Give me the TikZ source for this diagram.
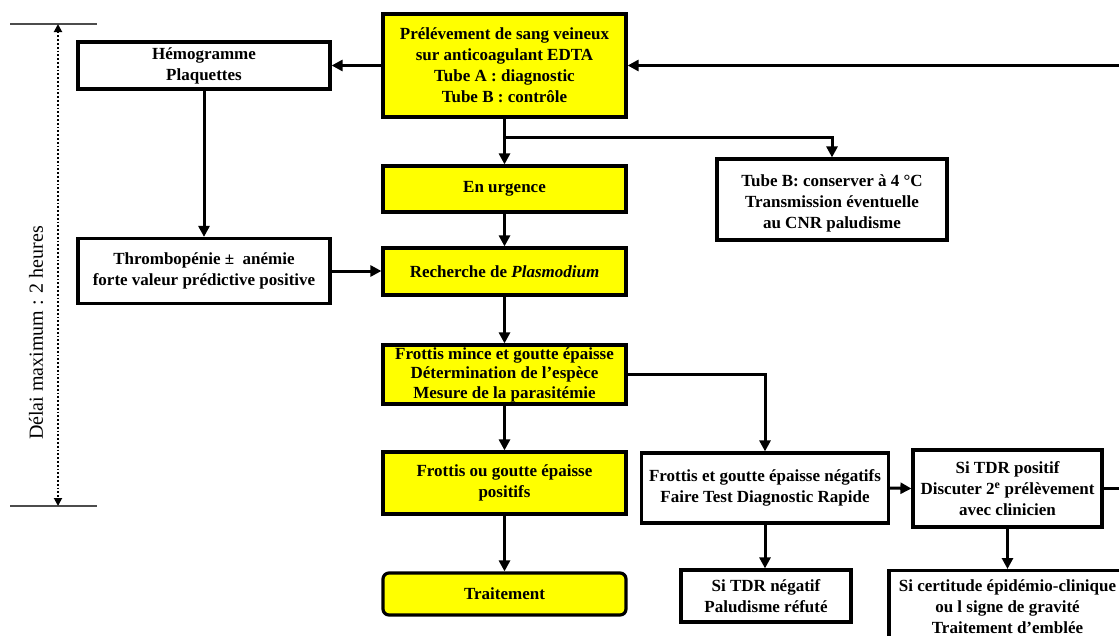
\documentclass[tikz,border=0pt]{standalone}
\usepackage{fontspec}
\setmainfont{Liberation Serif}
\usetikzlibrary{arrows.meta}
\definecolor{boxyellow}{RGB}{255,255,0}
\tikzset{
  box/.style={draw=black, line width=3.2pt, fill=white, align=center, inner sep=1pt,
    font=\fontsize{17}{21}\selectfont\bfseries},
  ybox/.style={box, fill=boxyellow},
  txt/.style={align=center, inner sep=1pt, font=\fontsize{17}{21}\selectfont\bfseries},
  arr/.style={line width=3pt, -{Triangle[length=11pt,width=11pt]}},
  plain/.style={line width=3pt},
  tick/.style={draw=black!70, line width=1.5pt},
  delai/.style={line width=1.8pt, dotted, {Triangle[length=8pt,width=8pt]}-{Triangle[length=8pt,width=8pt]}}
}
\begin{document}
\begin{tikzpicture}[x=1pt,y=-1pt]
\useasboundingbox (0,0) rectangle (1119,635);
\clip (0,0) rectangle (1119,635);
% timeline
\coordinate (t1a) at (10,24); \coordinate (t1b) at (97,24);
\coordinate (t2a) at (10,506); \coordinate (t2b) at (97,506);
\coordinate (da) at (58,24); \coordinate (db) at (58,506);
\draw[tick] (t1a) -- (t1b);
\draw[tick] (t2a) -- (t2b);
\draw[delai] (da) -- (db);
\node[rotate=90, font=\fontsize{20}{24}\selectfont] (delaitxt) at (36,333) {Délai maximum : 2 heures};
% boxes
\node[ybox, minimum width=243pt, minimum height=103pt] (prel) at (504.5,65.5)
  {Prélévement de sang veineux\\ sur anticoagulant EDTA\\ Tube A : diagnostic\\ Tube B : contrôle};
\node[box, minimum width=252pt, minimum height=47pt] (hemo) at (204,65.5) {Hémogramme\\ Plaquettes};
\node[ybox, minimum width=243pt, minimum height=46pt] (urg) at (504.5,189) {En urgence};
\node[box, minimum width=230pt, minimum height=81pt] (tubeb) at (832,199.5) {};
\node[txt] (tubebtxt) at ([yshift=-4pt]tubeb.center)
  {Tube B: conserver à 4 °C\\ Transmission éventuelle\\ au CNR paludisme};
\node[box, minimum width=252pt, minimum height=65pt] (thromb) at (204,271)
  {Thrombopénie ±\ \ anémie\\ forte valeur prédictive positive};
\node[ybox, minimum width=243pt, minimum height=47pt] (rech) at (504.5,271.5)
  {Recherche de \textit{Plasmodium}};
\node[ybox, minimum width=243pt, minimum height=59pt, font=\fontsize{17}{19.5}\selectfont\bfseries] (fmince) at (504.5,374.5)
  {Frottis mince et goutte épaisse\\ Détermination de l’espèce\\ Mesure de la parasitémie};
\node[ybox, minimum width=243pt, minimum height=62pt] (fpos) at (504.5,483)
  {Frottis ou goutte épaisse\\ positifs};
\node[ybox, rounded corners=6pt, minimum width=243pt, minimum height=42pt] (trait) at (504.5,594) {Traitement};
\node[box, minimum width=247pt, minimum height=70pt] (fneg) at (765,488)
  {Frottis et goutte épaisse négatifs\\ Faire Test Diagnostic Rapide};
\node[box, minimum width=189pt, minimum height=77pt] (tdrpos) at (1007.5,488.5)
  {Si TDR positif\\ Discuter 2\textsuperscript{e} prélèvement\\ avec clinicien};
\node[box, minimum width=170pt, minimum height=52pt] (tdrneg) at (766,596)
  {Si TDR négatif\\ Paludisme réfuté};
\node[box, minimum width=237pt, minimum height=90pt, anchor=north] (certit) at (1007.5,569)
  {Si certitude épidémio-clinique\\ ou l signe de gravité\\ Traitement d'emblée\\[-2pt]\mbox{}};
% connectors
\coordinate (rin) at (1125,65.5);
\coordinate (br) at (prel.south |- 0,137);
\draw[arr] (prel.west) -- (hemo.east);
\draw[arr] (rin) -- (prel.east);
\draw[arr] (prel.south) -- (urg.north);
\draw[arr] (br) -| (tubeb.north);
\draw[arr] (hemo.south) -- (thromb.north);
\draw[arr] (thromb.east) -- (thromb.east -| rech.west);
\draw[arr] (urg.south) -- (rech.north);
\draw[arr] (rech.south) -- (fmince.north);
\draw[arr] (fmince.south) -- (fpos.north);
\draw[arr] (fpos.south) -- (trait.north);
\draw[arr] (fmince.east) -| (fneg.north);
\draw[arr] (fneg.east) -- (tdrpos.west);
\draw[arr] (fneg.south) -- (fneg.south |- tdrneg.north);
\draw[arr] (tdrpos.south) -- (certit.north);
\coordinate (rout) at ([xshift=40pt]tdrpos.east);
\draw[plain] (tdrpos.east) -- (rout);
\end{tikzpicture}
\end{document}
